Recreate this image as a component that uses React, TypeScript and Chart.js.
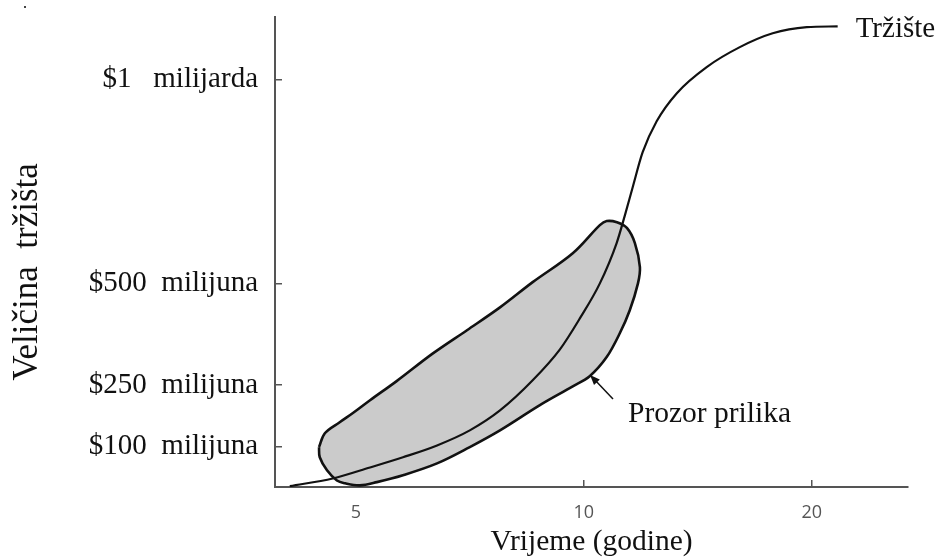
import React, { useEffect, useRef } from "react";
import { Chart, registerables } from "chart.js";

Chart.register(...registerables);

// ---- data ----
const xTickValues = [5, 10, 20];
const xTickLabels = ["5", "10", "20"];
const yTickValues = [100, 250, 500, 1000];
const yTickLabels = ["$100  milijuna", "$250  milijuna", "$500  milijuna", "$1   milijarda"];

// Market curve (years, $ millions)
const marketX = [4.09, 4.66, 5.22, 5.77, 6.4, 7.07, 7.75, 8.56, 9.3, 9.88, 10.5, 11.05, 11.33, 11.61, 11.96, 12.48, 13.27, 14.53, 16.07, 17.76, 19.7, 21.64];
const marketY = [2, 21, 48, 73, 102, 139, 188, 262, 338, 414, 500, 599, 667, 738, 822, 898, 967, 1031, 1080, 1114, 1129, 1131];

// Window of opportunity outline (closed)
const windowX = [4.47, 4.55, 4.76, 4.95, 5.22, 5.66, 6.32, 7.01, 7.75, 8.56, 9.67, 10.5, 10.72, 11.06, 11.4, 11.68, 11.86, 11.79, 11.5, 11.16, 10.72, 10.18, 9.67, 8.75, 7.75, 7.07, 6.4, 5.77, 5.33, 5.06, 4.84, 4.72, 4.58, 4.48, 4.47];
const windowY = [98, 132, 159, 181, 213, 260, 328, 385, 441, 503, 574, 643, 653, 650, 636, 599, 540, 500, 434, 378, 319, 272, 247, 201, 139, 98, 58, 29, 12, 4, 9, 16, 41, 73, 98];

const marketLabel = "Tržište";
const windowLabel = "Prozor prilika";
const xTitle = "Vrijeme (godine)";
const yTitle = "Veličina  tržišta";

const X_MIN = 3.91;
const X_MAX = 26.8;
const Y_MIN = 0;
const Y_MAX = 1154;

const SERIF = "'Liberation Serif', 'Times New Roman', serif";
const SANS = "'Open Sans', 'DejaVu Sans', sans-serif";

const annotationPlugin = {
  id: "annotations",
  afterDatasetsDraw(chart: any) {
    const ctx = chart.ctx as CanvasRenderingContext2D;
    const xs = chart.scales.x;
    const ys = chart.scales.y;
    ctx.save();
    ctx.fillStyle = "#111";
    ctx.strokeStyle = "#111";

    // Market label, right of the curve end
    const lastI = marketX.length - 1;
    const mx = xs.getPixelForValue(marketX[lastI]);
    const my = ys.getPixelForValue(marketY[lastI]);
    ctx.font = `29px ${SERIF}`;
    ctx.textAlign = "left";
    ctx.textBaseline = "alphabetic";
    ctx.fillText(marketLabel, mx + 18, my + 11);

    // Window label + arrow
    ctx.font = `29.5px ${SERIF}`;
    ctx.fillText(windowLabel, 628, 422);
    const tipX = 590, tipY = 375;
    const tailX = 613, tailY = 399;
    ctx.lineWidth = 1.5;
    ctx.beginPath();
    ctx.moveTo(tailX, tailY);
    ctx.lineTo(tipX + 4, tipY + 4);
    ctx.stroke();
    const ang = Math.atan2(tipY - tailY, tipX - tailX);
    const hl = 10, hw = 4;
    ctx.beginPath();
    ctx.moveTo(tipX, tipY);
    ctx.lineTo(tipX - hl * Math.cos(ang) + hw * Math.sin(ang), tipY - hl * Math.sin(ang) - hw * Math.cos(ang));
    ctx.lineTo(tipX - hl * Math.cos(ang) - hw * Math.sin(ang), tipY - hl * Math.sin(ang) + hw * Math.cos(ang));
    ctx.closePath();
    ctx.fill();

    // Y axis title
    ctx.save();
    ctx.translate(37, 272);
    ctx.rotate(-Math.PI / 2);
    ctx.font = `35px ${SERIF}`;
    ctx.textAlign = "center";
    ctx.textBaseline = "alphabetic";
    ctx.fillText(yTitle, 0, 0);
    ctx.restore();

    // small stray dot top-left
    ctx.fillStyle = "#444";
    ctx.fillRect(24, 6, 2, 2);
    ctx.restore();
  },
};

export default function App() {
  const canvasRef = useRef<HTMLCanvasElement | null>(null);

  useEffect(() => {
    const canvas = canvasRef.current;
    if (!canvas) return;
    const marketData = marketX.map((x, i) => ({ x, y: marketY[i] }));
    const windowData = windowX.map((x, i) => ({ x, y: windowY[i] }));

    const chart = new Chart(canvas, {
      type: "line",
      data: {
        datasets: [
          {
            label: marketLabel,
            data: marketData,
            borderColor: "#111",
            borderWidth: 2.2,
            pointRadius: 0,
            cubicInterpolationMode: "monotone",
            fill: false,
          },
          {
            label: windowLabel,
            data: windowData,
            borderColor: "#111",
            borderWidth: 2.6,
            backgroundColor: "#cbcbcb",
            pointRadius: 0,
            tension: 0.35,
            fill: "shape",
          },
        ],
      },
      options: {
        animation: false,
        responsive: false,
        events: [],
        layout: { padding: { top: 17, right: 31, left: 0, bottom: 0 } },
        plugins: {
          legend: { display: false },
          tooltip: { enabled: false },
        },
        scales: {
          x: {
            type: "logarithmic",
            position: "bottom",
            min: X_MIN,
            max: X_MAX,
            afterBuildTicks: (s: any) => {
              s.ticks = xTickValues.map((v) => ({ value: v }));
            },
            afterFit: (s: any) => {
              s.height = 73;
              s.paddingLeft = 0;
              s.paddingRight = 0;
            },
            grid: {
              drawOnChartArea: false,
              drawTicks: true,
              tickLength: -7,
              color: "#555",
              lineWidth: 1.5,
            },
            border: { display: true, color: "#555", width: 2 },
            ticks: {
              autoSkip: false,
              maxRotation: 0,
              padding: 22,
              color: "#555",
              font: { family: SANS, size: 18 },
              callback: (v: any) => {
                const i = xTickValues.indexOf(Number(v));
                return i >= 0 ? xTickLabels[i] : "";
              },
            },
            title: {
              display: true,
              text: xTitle,
              color: "#111",
              font: { family: SERIF, size: 29.5 },
              padding: { top: 0, bottom: 0 },
            },
          },
          y: {
            type: "linear",
            min: Y_MIN,
            max: Y_MAX,
            afterBuildTicks: (s: any) => {
              s.ticks = yTickValues.map((v) => ({ value: v }));
            },
            afterFit: (s: any) => {
              s.width = 275;
              s.paddingTop = 0;
              s.paddingBottom = 0;
            },
            grid: {
              drawOnChartArea: false,
              drawTicks: true,
              tickLength: -7,
              color: "#555",
              lineWidth: 1.5,
            },
            border: { display: true, color: "#555", width: 2 },
            ticks: {
              autoSkip: false,
              padding: 24,
              color: "#111",
              font: { family: SERIF, size: 29 },
              callback: (v: any) => {
                const i = yTickValues.indexOf(Number(v));
                return i >= 0 ? yTickLabels[i] : "";
              },
            },
          },
        },
      },
      plugins: [annotationPlugin],
    } as any);

    return () => chart.destroy();
  }, []);

  return (
    <div style={{ position: "fixed", left: 0, top: 0, width: 939, height: 560, background: "#fff" }}>
      <canvas ref={canvasRef} width={939} height={560} style={{ display: "block" }} />
    </div>
  );
}
